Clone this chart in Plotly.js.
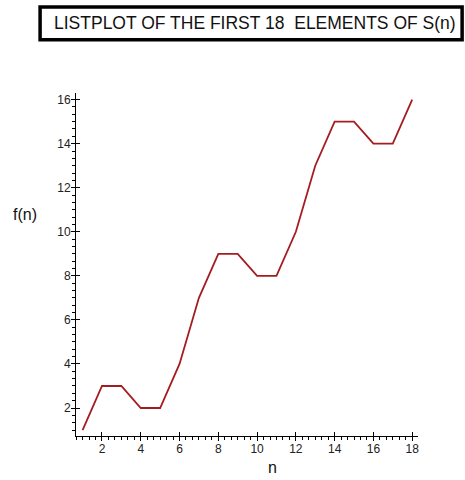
<!DOCTYPE html>
<html>
<head>
<meta charset="utf-8">
<script src="https://cdn.plot.ly/plotly-3.0.1.min.js"></script>
<style>html,body{margin:0;padding:0;background:#fff;}#chart{width:465px;height:480px;}</style>
</head>
<body>
<div id="chart"></div>
<script>
const chartTitle = "LISTPLOT OF THE FIRST 18  ELEMENTS OF S(n)";
const xLabel = "n";
const yLabel = "f(n)";
const nValues = [1,2,3,4,5,6,7,8,9,10,11,12,13,14,15,16,17,18];
const fValues = [1,3,3,2,2,4,7,9,9,8,8,10,13,15,15,14,14,16];
const xTickVals = [2,4,6,8,10,12,14,16,18];
const yTickVals = [2,4,6,8,10,12,14,16];

const xRange = [0.66, 18.3];
const yRange = [0.73, 16.3];
const tickFont = {family: "Liberation Sans, Arial, sans-serif", size: 12, color: "#222"};

const traces = [
  {x: nValues, y: fValues, type: "scatter", mode: "lines",
   line: {color: "rgb(165,28,32)", width: 1.8}, hoverinfo: "none", showlegend: false},
  {x: [nValues[0]], y: [fValues[0]], xaxis: "x2", yaxis: "y2", type: "scatter",
   mode: "markers", marker: {opacity: 0}, hoverinfo: "none", showlegend: false}
];

const baseAxis = {
  showgrid: false, zeroline: false, showline: true, linecolor: "#000", linewidth: 1,
  ticks: "outside", ticklen: 4, tickwidth: 1, tickcolor: "#000",
  tickfont: tickFont, fixedrange: true, ticklabelstandoff: -2
};

const layout = {
  width: 465, height: 480,
  margin: {l: 76, r: 47, t: 93, b: 44},
  paper_bgcolor: "#fff", plot_bgcolor: "#fff",
  showlegend: false,
  xaxis: Object.assign({}, baseAxis, {
    range: xRange, tickvals: xTickVals,
    minor: {dtick: 1/3, tick0: 0, ticklen: 3, ticks: "outside", tickcolor: "#000", showgrid: false}
  }),
  yaxis: Object.assign({}, baseAxis, {
    range: yRange, tickvals: yTickVals,
    minor: {dtick: 1/3, tick0: 0, ticklen: 3, ticks: "outside", tickcolor: "#000", showgrid: false}
  }),
  xaxis2: {overlaying: "x", anchor: "y2", range: xRange, tickvals: xTickVals, showticklabels: false,
    ticks: "inside", ticklen: 4, tickcolor: "#000", showgrid: false, zeroline: false, showline: false, side: "bottom"},
  yaxis2: {overlaying: "y", anchor: "x2", range: yRange, tickvals: yTickVals, showticklabels: false,
    ticks: "inside", ticklen: 4, tickcolor: "#000", showgrid: false, zeroline: false, showline: false, side: "left"},
  shapes: [
    {type: "rect", xref: "paper", yref: "paper", x0: -0.105, x1: 1.129, y0: 1.155, y1: 1.251,
     line: {color: "#000", width: 3.5}, fillcolor: "rgba(0,0,0,0)"}
  ],
  annotations: [
    {text: chartTitle, xref: "paper", yref: "paper", x: 0.523, y: 1.204,
     xanchor: "center", yanchor: "middle", showarrow: false,
     font: {family: "Liberation Sans, Arial, sans-serif", size: 17.5, color: "#111"}},
    {text: xLabel, xref: "paper", yref: "paper", x: 0.575, y: -0.092,
     xanchor: "center", yanchor: "middle", showarrow: false,
     font: {family: "Liberation Sans, Arial, sans-serif", size: 16, color: "#111"}},
    {text: yLabel, xref: "paper", yref: "paper", x: -0.15, y: 0.645,
     xanchor: "center", yanchor: "middle", showarrow: false,
     font: {family: "Liberation Sans, Arial, sans-serif", size: 16, color: "#111"}}
  ]
};

Plotly.newPlot("chart", traces, layout, {displayModeBar: false, staticPlot: true});
</script>
</body>
</html>
